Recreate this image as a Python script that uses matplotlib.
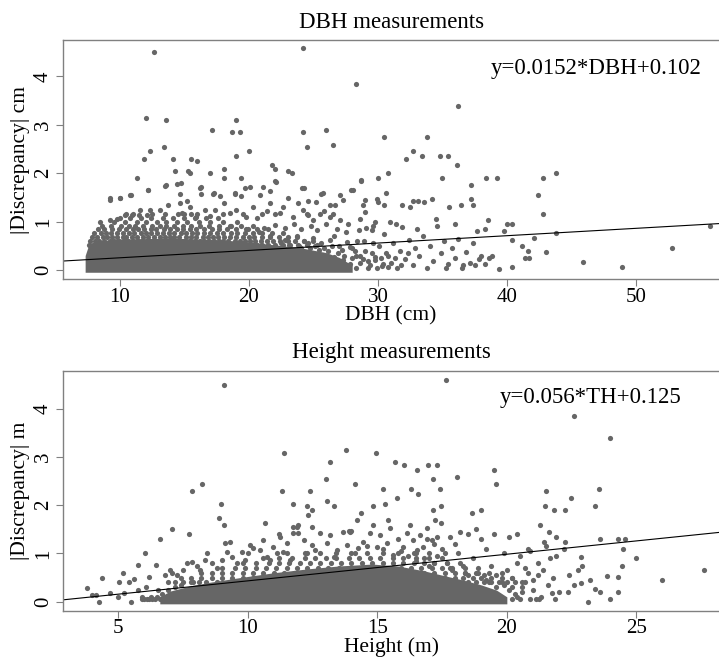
import matplotlib
matplotlib.use('Agg')
import matplotlib.pyplot as plt
import numpy as np

plt.rcParams['font.family'] = ['Liberation Serif', 'DejaVu Serif']

# ---- DBH panel data (DBH cm, |discrepancy| cm) ----
# solid bottom of the cloud, read as an upper envelope
dbh_core_x = [7.3, 7.55, 8.0, 9, 10, 14, 18, 20, 22, 24, 26, 27, 28]
dbh_core_top = [0.3, 0.5, 0.58, 0.62, 0.64, 0.66, 0.62, 0.58, 0.52, 0.46, 0.36, 0.26, 0.1]

# dense rows just above the solid part: (level, DBH values)
dbh_rows = [
    (0.52, [7.6, 7.9, 8.3, 8.6, 9.0, 9.3, 9.7, 10.1, 10.4, 10.8, 11.2, 11.5, 11.9, 12.3, 12.6,
            13.0, 13.4, 13.7, 14.1, 14.5, 14.8, 15.2, 15.6, 16.0, 16.3, 16.7, 17.1, 17.4, 17.8,
            18.2, 18.6, 19.0, 19.4, 19.8, 20.2, 20.6, 21.0, 21.5, 22.0, 22.6, 23.1, 23.8, 24.5, 25.3]),
    (0.60, [7.7, 8.1, 8.4, 8.8, 9.2, 9.5, 9.9, 10.3, 10.6, 11.0, 11.4, 11.7, 12.1, 12.5, 12.8,
            13.2, 13.6, 14.0, 14.3, 14.7, 15.0, 15.4, 15.8, 16.2, 16.5, 16.9, 17.3, 17.7, 18.0,
            18.4, 18.9, 19.3, 19.7, 20.1, 20.5, 20.9, 21.4, 21.9, 22.4, 23.0, 23.6, 24.3, 25.0]),
    (0.68, [7.8, 8.2, 8.7, 9.0, 9.4, 9.8, 10.2, 10.5, 10.9, 11.3, 11.8, 12.2, 12.6, 13.1, 13.5,
            13.9, 14.2, 14.6, 15.1, 15.5, 15.9, 16.4, 16.8, 17.2, 17.6, 18.1, 18.5, 19.0, 19.5,
            20.0, 20.4, 21.0, 21.6, 22.3, 23.0, 23.7]),
    (0.76, [8.0, 8.5, 8.9, 9.3, 9.8, 10.2, 10.7, 11.1, 11.6, 12.0, 12.4, 12.9, 13.3, 13.8, 14.2,
            14.7, 15.1, 15.6, 16.0, 16.5, 17.0, 17.5, 18.0, 18.6, 19.1, 19.7, 20.3, 21.0, 21.8, 22.6]),
    (0.84, [8.3, 8.8, 9.4, 9.9, 10.5, 11.0, 11.4, 11.9, 12.4, 12.8, 13.4, 13.9, 14.4, 14.9, 15.4,
            15.9, 16.5, 17.1, 17.7, 18.3, 19.0, 19.8, 20.6, 21.5]),
    (0.92, [8.6, 9.3, 10.1, 10.7, 11.2, 11.8, 12.5, 13.1, 13.6, 14.2, 14.9, 15.5, 16.2, 16.9,
            17.7, 18.5, 19.4, 20.3]),
    (1.00, [9.5, 10.4, 11.3, 12.0, 12.9, 13.6, 14.4, 15.2, 16.1, 17.0, 18.0, 19.1]),
    (1.07, [10.0, 10.8, 11.6, 12.4, 13.3, 14.1, 15.0, 15.8, 16.7, 17.6]),
]

dbh_outliers = [
    (12.6, 4.50), (24.2, 4.58), (28.3, 3.84), (36.2, 3.38), (12.0, 3.14), (13.6, 3.09),
    (19.0, 3.09), (17.1, 2.89), (18.7, 2.85), (19.3, 2.85), (24.2, 2.85), (26.0, 2.89),
    (26.5, 2.59), (24.5, 2.55), (13.4, 2.55), (30.5, 2.75), (33.8, 2.75), (12.3, 2.45),
    (20.0, 2.45), (19.0, 2.35), (32.7, 2.45), (32.2, 2.30), (33.4, 2.35), (34.8, 2.35),
    (35.4, 2.35), (11.9, 2.30), (14.1, 2.30), (15.5, 2.30), (16.0, 2.25), (36.1, 2.16),
    (21.8, 2.16), (22.0, 2.09), (23.0, 2.04), (23.3, 2.01), (18.1, 2.09), (30.8, 2.01),
    (43.8, 2.01), (17.0, 2.01), (14.3, 2.04), (15.3, 2.04), (15.4, 2.01), (11.3, 1.90),
    (18.1, 1.90), (19.4, 1.90), (30.0, 1.90), (35.0, 1.90), (38.4, 1.90), (39.2, 1.90),
    (42.8, 1.90), (22.0, 1.84), (28.7, 1.84), (14.7, 1.80), (13.6, 1.75), (37.2, 1.75),
    (24.1, 1.70), (19.7, 1.70), (12.2, 1.65), (27.9, 1.65), (16.2, 1.70), (42.4, 1.55),
    (25.7, 1.59), (30.6, 1.59), (17.3, 1.59), (18.9, 1.59), (10.8, 1.55), (37.2, 1.46),
    (37.4, 1.34), (34.2, 1.46), (9.2, 1.49), (10.0, 1.49), (24.6, 1.42), (29.9, 1.46),
    (32.7, 1.42), (33.1, 1.42), (36.4, 1.35), (42.8, 1.15), (38.5, 1.04), (40.0, 0.96),
    (40.4, 0.96), (38.3, 0.84), (39.8, 0.80), (40.4, 0.63), (41.2, 0.49), (41.6, 0.39),
    (41.4, 0.25), (41.7, 0.25), (43.0, 0.37), (43.8, 0.77), (42.1, 0.67), (45.9, 0.16),
    (48.9, 0.06), (52.8, 0.46), (55.7, 0.92), (38.8, 0.29), (38.6, 0.25), (39.4, 0.03),
    (40.4, 0.06), (37.8, 0.22), (36.6, 0.10), (37.5, 0.10), (35.3, 0.05),
]

dbh_band = [
    (9.22, 1.45), (10.0, 1.48), (10.85, 1.55), (12.2, 1.65), (13.5, 1.74), (14.4, 1.78),
    (14.65, 1.58), (16.3, 1.71), (16.3, 1.58), (17.2, 1.58), (17.75, 1.53), (18.9, 1.58),
    (19.4, 1.53), (18.1, 1.38), (20.1, 1.72), (20.85, 1.55), (21.1, 1.72), (21.6, 1.64),
    (22.1, 1.82), (23.05, 1.48), (24.3, 1.69), (25.6, 1.58), (27.05, 1.55), (27.3, 1.45),
    (26.3, 1.34), (26.7, 1.34), (25.2, 1.41), (28.1, 1.65), (28.7, 1.86), (28.8, 1.34),
    (29.0, 1.45), (8.45, 1.0), (9.2, 1.03), (9.74, 1.05), (10.4, 1.14), (10.9, 1.14),
    (11.5, 1.14), (12.1, 1.14), (12.3, 1.24), (13.1, 1.24), (11.55, 1.24), (13.7, 1.34),
    (14.65, 1.38), (15.2, 1.43), (14.8, 1.17), (15.4, 1.31), (15.9, 1.10), (16.6, 1.24),
    (17.4, 1.24), (17.0, 1.12), (18.5, 1.17), (19.0, 1.24), (19.8, 1.10), (20.3, 1.31),
    (20.6, 1.07), (21.4, 1.21), (21.6, 1.38), (22.4, 1.17), (22.66, 1.31), (23.4, 1.09),
    (23.8, 1.38), (24.2, 1.24), (24.6, 1.14), (25.0, 1.03), (25.8, 1.21), (26.3, 1.10),
    (27.05, 1.03), (27.7, 0.96), (28.5, 0.83), (29.1, 0.86), (29.5, 0.83), (29.8, 1.0),
    (10.5, 1.15), (11.0, 1.15), (12.5, 1.15), (13.5, 1.15), (14.5, 1.15), (15.0, 1.15),
    (15.5, 1.15), (16.0, 1.15), (18.0, 1.15), (19.5, 1.15), (21.0, 1.15), (22.0, 1.15),
    (24.5, 1.15), (25.5, 1.15), (26.5, 1.15),
    (21.2, 0.86), (22.0, 0.93), (22.8, 0.87), (23.5, 0.95), (24.0, 0.85), (24.8, 0.9),
    (25.3, 0.82), (26.0, 0.95), (26.8, 0.85), (27.5, 0.78),
    (23.7, 0.7), (24.3, 0.6), (25.0, 0.66), (25.6, 0.55), (26.3, 0.62), (27.0, 0.5),
    (27.6, 0.58), (28.2, 0.4),
    (22.5, 0.56), (23.2, 0.52), (23.9, 0.5), (24.7, 0.46), (25.4, 0.42), (26.1, 0.4),
    (26.9, 0.35), (27.4, 0.3), (28.0, 0.25), (28.6, 0.3), (29.2, 0.18), (29.8, 0.28),
    (30.4, 0.12),
    (24.8, 0.3), (25.2, 0.2), (25.7, 0.32), (26.2, 0.15), (26.6, 0.28), (27.0, 0.08),
    (27.3, 0.2), (27.8, 0.12), (28.3, 0.05), (28.8, 0.22), (29.4, 0.1), (29.9, 0.05),
    (30.6, 0.35), (24.0, 0.45), (24.6, 0.55), (25.1, 0.5), (25.8, 0.45), (26.4, 0.5),
    (26.6, 0.7), (27.2, 0.42), (27.8, 0.48), (28.4, 0.6), (29.0, 0.4), (29.6, 0.55),
    (30.2, 0.25), (30.8, 0.06), (31.3, 0.25), (31.8, 0.1), (32.3, 0.35), (22.8, 0.62),
    (21.6, 0.7), (20.8, 0.78), (19.9, 0.85), (18.6, 0.92),
]

dbh_sparse = [
    (28.0, 0.45), (28.3, 0.3), (28.6, 0.15), (28.9, 0.6), (29.2, 0.05), (29.5, 0.35),
    (29.8, 0.2), (30.1, 0.5), (30.3, 0.08), (30.5, 0.75), (30.8, 0.3), (31.0, 0.15),
    (31.2, 0.55), (31.5, 0.05), (31.7, 0.4), (31.9, 0.88), (32.1, 0.22), (32.4, 0.62),
    (32.7, 0.1), (32.9, 0.45), (33.2, 0.3), (33.5, 0.7), (33.8, 0.05), (34.0, 0.5),
    (34.3, 0.18), (34.6, 0.9), (34.9, 0.35), (35.1, 0.6), (35.4, 0.12), (35.7, 0.45),
    (36.0, 0.25), (36.2, 0.65), (36.5, 0.05), (36.8, 0.38), (37.1, 0.15), (37.4, 0.55),
    (37.7, 0.8), (38.0, 0.3), (38.3, 0.12), (33.0, 0.85), (31.4, 0.95), (29.6, 0.9),
    (30.9, 1.0), (32.5, 1.3), (33.6, 1.4), (35.5, 1.3), (31.9, 1.35), (30.5, 1.35),
    (30.0, 1.4), (34.5, 1.05), (36.0, 0.95), (29.0, 1.2), (28.6, 1.05),
]

# ---- Height panel data (height m, |discrepancy| m) ----
ht_core_x = [6.6, 7.0, 7.8, 8.5, 9.7, 11, 12.3, 13.5, 14.8, 15.8, 16.8, 17.5, 18.3, 19.0, 19.6, 20.0]
ht_core_top = [0.1, 0.22, 0.33, 0.4, 0.5, 0.6, 0.68, 0.74, 0.78, 0.74, 0.64, 0.55, 0.45, 0.35, 0.24, 0.1]

ht_rows = [
    (0.40, [6.9, 7.2, 7.5, 7.8, 8.1, 8.4, 8.8, 18.5, 18.8, 19.1, 19.4, 19.7, 20.0, 20.3, 20.6]),
    (0.50, [7.4, 7.8, 8.2, 8.6, 9.0, 9.4, 9.8, 10.2, 17.6, 18.0, 18.3, 18.7, 19.0, 19.4, 19.8, 20.2]),
    (0.60, [8.2, 8.6, 9.0, 9.4, 9.8, 10.2, 10.6, 11.0, 11.4, 11.8, 16.8, 17.2, 17.6, 18.0, 18.4,
            18.8, 19.3, 19.8]),
    (0.70, [9.0, 9.5, 9.9, 10.3, 10.7, 11.1, 11.5, 11.9, 12.3, 12.7, 13.1, 13.5, 15.9, 16.3, 16.7,
            17.1, 17.5, 17.9, 18.4, 18.9]),
    (0.80, [9.8, 10.3, 10.8, 11.2, 11.6, 12.0, 12.4, 12.8, 13.2, 13.6, 14.0, 14.4, 14.8, 15.2,
            15.6, 16.0, 16.4, 16.8, 17.2, 17.7, 18.2]),
    (0.90, [10.6, 11.2, 11.7, 12.2, 12.6, 13.0, 13.4, 13.9, 14.3, 14.7, 15.1, 15.6, 16.0, 16.5,
            17.0, 17.5]),
    (1.00, [11.5, 12.2, 12.8, 13.4, 14.0, 14.6, 15.2, 15.8, 16.4, 17.0]),
]

ht_outliers = [
    (9.06, 4.50), (17.67, 4.59), (22.58, 3.84), (23.97, 3.39), (11.40, 3.09), (13.80, 3.14),
    (14.93, 3.09), (13.18, 2.89), (15.67, 2.89), (16.04, 2.84), (16.54, 2.74), (16.96, 2.84),
    (17.31, 2.84), (19.52, 2.74), (18.07, 2.59), (13.00, 2.54), (17.14, 2.54), (23.55, 2.34),
    (22.49, 2.14), (19.58, 2.45), (14.15, 2.45), (8.22, 2.45), (7.86, 2.29), (11.30, 2.29),
    (12.40, 2.29), (15.21, 2.34), (16.29, 2.34), (17.40, 2.34), (21.50, 2.29), (16.57, 2.24),
    (8.98, 2.03), (11.75, 2.03), (12.28, 1.99), (13.07, 2.09), (13.31, 1.99), (14.84, 1.99),
    (15.28, 2.03), (15.74, 2.14), (17.14, 1.90), (17.44, 1.99), (23.39, 1.99), (21.46, 1.99),
    (21.82, 1.90), (22.26, 1.90), (18.66, 1.84), (18.99, 1.90), (12.46, 1.90), (12.32, 1.79),
    (14.35, 1.84), (8.89, 1.74), (9.06, 1.60), (10.65, 1.64), (14.20, 1.69), (15.42, 1.69),
    (17.23, 1.69), (17.44, 1.64), (7.08, 1.50), (7.72, 1.40), (11.22, 1.40), (11.75, 1.55),
    (11.93, 1.60), (12.46, 1.55), (13.89, 1.46), (13.98, 1.46), (23.59, 1.30), (21.29, 1.60),
    (21.61, 1.45), (21.88, 1.34), (24.29, 1.30), (24.56, 1.30), (21.45, 1.24), (22.23, 1.24),
    (6.59, 1.30), (6.02, 1.00), (24.47, 1.09), (25.0, 0.90), (22.88, 0.93), (21.65, 0.90),
    (24.43, 0.74), (27.61, 0.66), (26.01, 0.45), (24.29, 0.52), (23.85, 0.53), (23.59, 0.21),
    (23.41, 0.26), (23.99, 0.05), (23.13, 0.0), (24.29, 0.21), (22.88, 0.38), (22.74, 0.66),
    (22.35, 0.21), (21.73, 0.17), (21.87, 0.05), (21.11, 0.05), (21.25, 0.05),
    (3.80, 0.29), (4.36, 0.50), (3.98, 0.14), (4.15, 0.14), (4.24, 0.0), (4.68, 0.17),
    (5.0, 0.10), (5.21, 0.17), (5.18, 0.60), (5.04, 0.41), (5.42, 0.41), (5.60, 0.48),
    (5.74, 0.76), (5.92, 0.10), (5.49, 0.0), (6.18, 0.52), (6.45, 0.76), (6.54, 0.24),
    (6.27, 0.10), (5.74, 0.24), (6.06, 0.31), (6.80, 0.55),
]

ht_band = [
    (7.0, 0.66), (7.06, 0.59), (7.25, 0.55), (7.51, 0.66), (7.64, 0.80), (7.83, 0.83),
    (8.03, 0.73), (8.15, 0.66), (8.34, 0.86), (8.41, 1.0), (8.6, 0.80), (8.8, 0.69),
    (9.0, 0.86), (9.18, 1.04), (9.12, 1.21), (9.31, 1.24), (9.38, 0.93), (9.57, 0.80),
    (9.76, 1.04), (9.89, 0.86), (10.02, 1.0), (10.08, 1.17), (10.21, 1.11), (10.47, 1.07),
    (10.6, 1.28), (10.73, 0.93), (10.86, 0.86), (10.98, 1.14), (11.11, 1.0), (11.24, 1.35),
    (11.37, 1.04), (11.5, 1.21), (11.63, 0.86), (11.76, 1.42), (11.89, 1.55), (11.95, 1.42),
    (12.15, 1.28), (12.28, 1.0), (12.47, 1.17), (12.6, 1.07), (12.8, 1.42), (13.05, 1.21),
    (13.18, 1.38), (13.31, 0.93), (13.44, 1.07), (13.69, 1.45), (13.82, 1.17), (13.95, 1.45),
    (14.14, 1.0), (14.27, 1.11), (14.46, 1.24), (14.72, 1.42), (14.85, 1.59), (14.98, 1.14),
    (15.1, 1.38), (15.36, 1.21), (15.49, 1.52), (15.62, 0.97), (15.81, 1.31), (16.0, 1.14),
    (16.14, 1.42), (16.26, 1.59), (16.39, 1.28), (16.52, 1.07), (16.65, 1.38), (16.78, 1.14),
    (16.9, 1.52), (17.1, 1.28), (17.3, 1.35),
    (16.2, 0.95), (16.5, 0.85), (16.8, 0.9), (17.0, 0.75), (17.3, 0.95), (17.5, 1.1),
    (17.7, 0.8), (17.9, 0.65), (18.1, 1.0), (18.3, 0.75), (18.5, 0.55), (18.7, 0.9),
    (18.9, 0.6), (19.0, 1.3), (19.2, 0.45), (19.4, 0.75), (19.6, 0.55), (19.8, 0.4),
    (20.0, 0.65), (20.2, 0.5), (20.4, 0.8), (20.6, 0.3), (20.8, 0.6), (21.0, 0.45),
    (20.1, 0.25), (20.3, 0.15), (19.9, 1.0), (20.5, 0.95), (20.7, 0.7), (21.2, 0.8),
    (21.4, 0.65), (21.6, 0.35), (21.8, 0.5), (22.0, 0.2), (21.3, 0.1), (20.9, 0.05),
    (20.6, 0.2), (18.5, 1.4), (18.2, 1.45), (17.8, 1.35), (17.2, 1.2), (18.8, 1.5),
    (17.6, 1.0), (16.9, 1.3), (19.5, 1.4), (20.1, 1.35), (20.8, 1.1), (20.4, 1.4),
    (18.0, 1.2), (19.2, 1.1), (22.4, 0.55), (22.6, 0.35), (22.9, 0.75), (23.2, 0.45),
    (21.9, 0.95), (22.2, 1.1), (21.5, 1.15), (20.9, 1.05),
    (7.9, 0.4), (7.4, 0.35), (7.2, 0.3), (6.9, 0.25), (6.7, 0.15), (6.5, 0.1),
    (6.3, 0.05), (6.1, 0.05), (5.9, 0.05), (6.0, 0.05), (6.2, 0.05), (6.4, 0.05), (6.6, 0.05),
    (18.6, 0.3), (18.9, 0.18), (19.3, 0.4), (19.6, 0.3), (19.9, 0.35), (20.2, 0.3),
    (20.4, 0.1), (20.7, 0.4), (21.0, 0.25), (21.2, 0.55), (19.1, 0.55), (18.4, 0.6),
    (17.8, 0.7), (17.2, 0.8), (16.5, 1.0), (15.9, 1.05), (15.2, 1.1), (14.6, 1.15),
    (20.2, 0.05), (20.5, 0.05), (19.7, 0.08),
]

# fitted lines as drawn (slope, intercept)
dbh_fit = (0.0152, 0.102)
ht_fit = (0.0552, -0.12)
dbh_eq = 'y=0.0152*DBH+0.102'
ht_eq = 'y=0.056*TH+0.125'

pt_color = '#666666'
frame_color = '#808080'

fig = plt.figure(figsize=(7.19, 6.59), dpi=100)
ax1 = fig.add_axes([0.0872, 0.5762, 0.9156, 0.3631])
ax2 = fig.add_axes([0.0872, 0.0733, 0.9156, 0.3642])


def draw_panel(ax, core_x, core_top, rows, groups, fit, eq, eq_pos, xlim, ylim, xticks):
    ax.fill_between(core_x, -0.045, core_top, color=pt_color, lw=0)
    for level, xs in rows:
        ax.scatter(xs, [level] * len(xs), s=14, color=pt_color, linewidths=0)
    for g in groups:
        xy = np.array(g)
        ax.scatter(xy[:, 0], xy[:, 1], s=14, color=pt_color, linewidths=0)
    xs = np.array(xlim)
    ax.plot(xs, fit[0] * xs + fit[1], color='black', lw=0.8)
    ax.text(eq_pos[0], eq_pos[1], eq, ha='center', va='center', fontsize=16.5)
    ax.set_xlim(*xlim)
    ax.set_ylim(*ylim)
    ax.set_xticks(xticks)
    ax.set_yticks([0, 1, 2, 3, 4])
    ax.tick_params(axis='both', length=5, width=0.8, color=frame_color, labelsize=15)
    ax.tick_params(axis='x', pad=1)
    ax.tick_params(axis='y', pad=2)
    for lab in ax.get_yticklabels():
        lab.set_rotation(90)
        lab.set_va('center')
    for side in ['left', 'top', 'bottom']:
        ax.spines[side].set_color(frame_color)
        ax.spines[side].set_linewidth(1.0)
    ax.spines['right'].set_visible(False)


draw_panel(ax1, dbh_core_x, dbh_core_top, dbh_rows, [dbh_outliers, dbh_band, dbh_sparse],
           dbh_fit, dbh_eq, (46.9, 4.17), (5.56, 56.59), (-0.19, 4.75), [10, 20, 30, 40, 50])
draw_panel(ax2, ht_core_x, ht_core_top, ht_rows, [ht_outliers, ht_band],
           ht_fit, ht_eq, (23.25, 4.24), (2.85, 28.27), (-0.187, 4.79), [5, 10, 15, 20, 25])

fig.text(0.544, 0.9575, 'DBH measurements', ha='center', va='baseline', fontsize=16.5)
fig.text(0.544, 0.4563, 'Height measurements', ha='center', va='baseline', fontsize=16.5)
fig.text(0.544, 0.514, 'DBH (cm)', ha='center', va='baseline', fontsize=15.5)
fig.text(0.544, 0.010, 'Height (m)', ha='center', va='baseline', fontsize=15.5)
fig.text(0.029, 0.7577, '|Discrepancy| cm', ha='center', va='center', rotation=90, fontsize=15.5)
fig.text(0.029, 0.2554, '|Discrepancy| m', ha='center', va='center', rotation=90, fontsize=15.5)

fig.savefig('out.png', dpi=100)
